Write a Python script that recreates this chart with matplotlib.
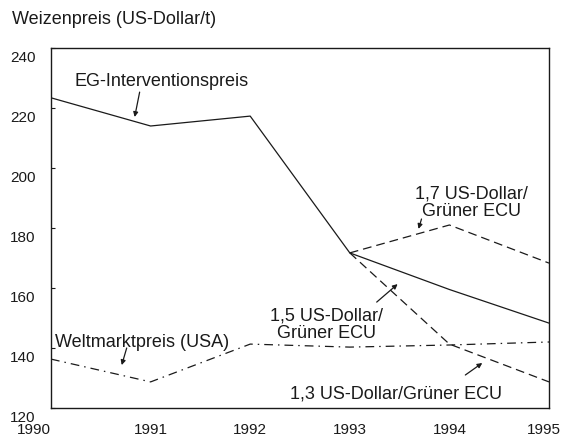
import matplotlib
matplotlib.use("Agg")
import matplotlib.pyplot as plt
from matplotlib.transforms import ScaledTranslation

plt.rcParams['font.family'] = ['Liberation Sans', 'DejaVu Sans']
plt.rcParams['font.size'] = 11

# --- data ---
years = [1990, 1991, 1992, 1993, 1994, 1995]
eg_intervention = [223.4, 214.0, 217.3, 171.7, 159.5, 148.3]
weltmarkt_usa = [136.3, 128.7, 141.3, 140.3, 141.0, 142.0]

proj_years = [1993, 1994, 1995]
ecu_17 = [171.7, 181.0, 168.3]
ecu_13 = [171.7, 141.3, 128.7]

y_ticks = [120, 140, 160, 180, 200, 220, 240]
x_tick_labels = ['1990', '1991', '1992', '1993', '1994', '1995']

INK = '#1a1a1a'
LABEL_SIZE = 13

fig = plt.figure(figsize=(5.63, 4.40), dpi=100)
ax = fig.add_axes([51 / 563, 1 - 408 / 440, (549 - 51) / 563, (408 - 48) / 440])

ax.plot(years, eg_intervention, color=INK, lw=0.9)
ax.plot(years, weltmarkt_usa, color=INK, lw=0.9, linestyle=(0, (7, 4, 1.2, 4)))
ax.plot(proj_years, ecu_17, color=INK, lw=0.9, linestyle=(0, (7, 4)))
ax.plot(proj_years, ecu_13, color=INK, lw=0.9, linestyle=(0, (7, 4)))

ax.set_xlim(1990, 1995)
ax.set_ylim(120, 240)
ax.set_yticks(y_ticks)
ax.set_xticks(years)
ax.set_xticklabels(x_tick_labels)
ax.tick_params(axis='y', direction='in', length=3, width=0.8, pad=11, colors=INK)
ax.tick_params(axis='x', length=0, pad=10.5, colors=INK)
for s in ax.spines.values():
    s.set_linewidth(1.0)
    s.set_color(INK)

# y labels sit a little below their ticks, as in the printed chart
shift = ScaledTranslation(0, -8 / 100, fig.dpi_scale_trans)
for lab in ax.get_yticklabels():
    lab.set_transform(lab.get_transform() + shift)
xlabs = ax.get_xticklabels()
xlabs[0].set_horizontalalignment('right')
xlabs[-1].set_horizontalalignment('right')
xlabs[-1].set_transform(xlabs[-1].get_transform()
                        + ScaledTranslation(12 / 100, 0, fig.dpi_scale_trans))

fig.text(12 / 563, 1 - 20 / 440, 'Weizenpreis (US-Dollar/t)', va='center', ha='left',
         color=INK, fontsize=LABEL_SIZE)

arrow = dict(arrowstyle='-|>', color=INK, lw=0.9, mutation_scale=7, shrinkA=0, shrinkB=0)

ax.text(1991.11, 228.7, 'EG-Interventionspreis', ha='center', va='center',
        color=INK, fontsize=LABEL_SIZE)
ax.annotate('', xy=(1990.84, 217.0), xytext=(1990.89, 225.3), arrowprops=arrow)

ax.text(1994.22, 188.5, '1,7 US-Dollar/\nGrüner ECU', ha='center', va='center',
        color=INK, fontsize=LABEL_SIZE, linespacing=1.05)
ax.annotate('', xy=(1993.69, 179.7), xytext=(1993.72, 183.0), arrowprops=arrow)

ax.text(1992.77, 147.7, '1,5 US-Dollar/\nGrüner ECU', ha='center', va='center',
        color=INK, fontsize=LABEL_SIZE, linespacing=1.05)
ax.annotate('', xy=(1993.48, 161.3), xytext=(1993.27, 155.3), arrowprops=arrow)

ax.text(1990.04, 142.0, 'Weltmarktpreis (USA)', ha='left', va='center',
        color=INK, fontsize=LABEL_SIZE)
ax.annotate('', xy=(1990.71, 134.3), xytext=(1990.76, 140.0), arrowprops=arrow)

ax.text(1992.40, 124.7, '1,3 US-Dollar/Grüner ECU', ha='left', va='center',
        color=INK, fontsize=LABEL_SIZE)
ax.annotate('', xy=(1994.33, 135.0), xytext=(1994.16, 131.0), arrowprops=arrow)

fig.savefig('out.png', dpi=100)
